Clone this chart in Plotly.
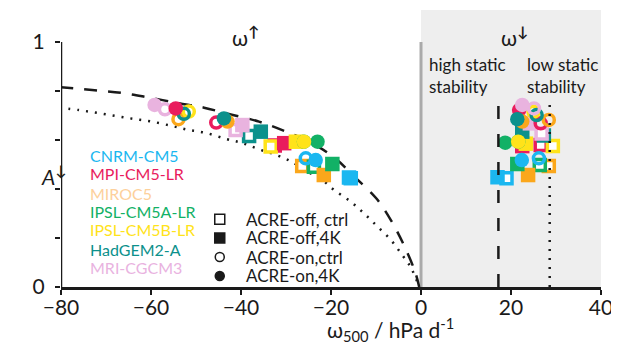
import plotly.graph_objects as go

# ---------------- data ----------------
models = ["CNRM-CM5", "MPI-CM5-LR", "MIROC5", "IPSL-CM5A-LR", "IPSL-CM5B-LR", "HadGEM2-A", "MRI-CGCM3"]
model_colors = ["#1bb7f0", "#e91c5d", "#fba71b", "#12b166", "#ffe31a", "#0c918c", "#e9b3df"]
label_colors = ["#1bb7f0", "#e91c5d", "#fdd09b", "#12b166", "#ffe31a", "#0c918c", "#e9b3df"]

# ascent regime (omega < 0)
omega_up_off_ctrl = [-16.0, -32.5, -26.4, -23.8, -33.4, -38.2, -41.2]
A_up_off_ctrl     = [0.447, 0.578, 0.494, 0.491, 0.573, 0.616, 0.641]
omega_up_off_4k   = [-15.6, -30.4, -21.6, -19.7, -27.8, -35.6, -39.7]
A_up_off_4k       = [0.444, 0.587, 0.457, 0.502, 0.593, 0.634, 0.661]
omega_up_on_ctrl  = [-25.6, -45.5, -53.9, -26.0, -51.6, -52.7, -56.9]
A_up_on_ctrl      = [0.525, 0.671, 0.685, 0.593, 0.716, 0.707, 0.725]
omega_up_on_4k    = [-23.4, -54.5, -43.0, -23.0, -26.0, -43.8, -59.2]
A_up_on_4k        = [0.518, 0.729, 0.675, 0.593, 0.593, 0.688, 0.743]

# descent regime (omega > 0)
omega_dn_off_ctrl = [19.0, 26.6, 28.4, 26.4, 29.3, 27.3, 26.8]
A_dn_off_ctrl     = [0.444, 0.580, 0.494, 0.498, 0.576, 0.618, 0.627]
omega_dn_off_4k   = [17.0, 22.5, 23.8, 21.4, 23.3, 22.5, 24.2]
A_dn_off_4k       = [0.448, 0.575, 0.457, 0.502, 0.585, 0.634, 0.668]
omega_dn_on_ctrl  = [26.2, 26.6, 28.4, 21.6, 25.0, 25.7, 25.1]
A_dn_on_ctrl      = [0.525, 0.668, 0.682, 0.593, 0.715, 0.702, 0.729]
omega_dn_on_4k    = [22.4, 21.8, 22.5, 18.7, 21.6, 21.4, 22.5]
A_dn_on_4k        = [0.518, 0.722, 0.675, 0.589, 0.593, 0.685, 0.743]

# fitted curves
dashed_omega = [-80.2, -73.1, -66.4, -60.4, -54.0, -48.2, -42.7, -36.0, -30.0, -24.3,
                -19.2, -14.4, -10.0, -6.7, -3.8, -1.3, -0.4]
dashed_A     = [0.816, 0.804, 0.792, 0.773, 0.751, 0.732, 0.706, 0.675, 0.634, 0.588,
                0.527, 0.443, 0.363, 0.273, 0.171, 0.061, 0.0]
dotted_omega = [-80.4, -76.0, -72.0, -67.8, -63.8, -59.8, -55.3, -51.6, -47.8, -43.3,
                -39.8, -36.0, -32.2, -28.7, -26.0, -22.2, -19.3, -15.6, -12.7, -9.8,
                -6.7, -4.2, -2.2, -0.4]
dotted_A     = [0.733, 0.722, 0.711, 0.698, 0.686, 0.675, 0.657, 0.641, 0.629, 0.604,
                0.588, 0.562, 0.539, 0.511, 0.478, 0.440, 0.396, 0.348, 0.301, 0.249,
                0.192, 0.131, 0.078, 0.0]

# static stability thresholds
high_stab_omega = 17.2
low_stab_omega = 28.6
threshold_A_top = 0.76

cond_labels = ["ACRE-off, ctrl", "ACRE-off,4K", "ACRE-on,ctrl", "ACRE-on,4K"]
x_ticks = [-80, -60, -40, -20, 0, 20, 40]
y_ticks = [0, 0.2, 0.4, 0.6, 0.8, 1]
y_ticktext = ["0", "", "", "", "", "1"]

FONT = "Lato"
INK = "#1a1a1a"

fig = go.Figure()

# curves
fig.add_trace(go.Scatter(x=dashed_omega, y=dashed_A, mode="lines", line_shape="spline",
                         line=dict(color=INK, width=2.5, dash="13px,11px"),
                         showlegend=False, hoverinfo="skip"))
fig.add_trace(go.Scatter(x=dotted_omega, y=dotted_A, mode="lines", line_shape="spline",
                         line=dict(color=INK, width=2.5, dash="2px,7px"),
                         showlegend=False, hoverinfo="skip"))

conds = [
    ("square", omega_up_off_ctrl, A_up_off_ctrl, omega_dn_off_ctrl, A_dn_off_ctrl, True),
    ("square", omega_up_off_4k, A_up_off_4k, omega_dn_off_4k, A_dn_off_4k, False),
    ("circle", omega_up_on_ctrl, A_up_on_ctrl, omega_dn_on_ctrl, A_dn_on_ctrl, True),
    ("circle", omega_up_on_4k, A_up_on_4k, omega_dn_on_4k, A_dn_on_4k, False),
]

for sym, xu, yu, xd, yd, is_open in conds:
    for i, m in enumerate(models):
        c = model_colors[i]
        if is_open:
            fill = "white" if sym == "square" else "rgba(255,255,255,0)"
            mk = dict(symbol=sym, size=11, color=fill, line=dict(color=c, width=3.5))
        else:
            mk = dict(symbol=sym, size=14.5, color=c, line=dict(width=0))
        fig.add_trace(go.Scatter(x=[xu[i], xd[i]], y=[yu[i], yd[i]], mode="markers",
                                 marker=mk, name=m, showlegend=False))

shapes = [
    dict(type="rect", xref="x", yref="paper", x0=0, x1=40, y0=0, y1=1,
         fillcolor="#eeeeee", line=dict(width=0), layer="below"),
    dict(type="line", xref="x", yref="y", x0=0, x1=0, y0=0, y1=1,
         line=dict(color="#aaaaaa", width=3), layer="below"),
    dict(type="line", xref="x", yref="y", x0=-80, x1=-80, y0=0, y1=1,
         line=dict(color=INK, width=2.5)),
    dict(type="line", xref="x", yref="y", x0=high_stab_omega, x1=high_stab_omega, y0=0, y1=threshold_A_top,
         line=dict(color=INK, width=2.5, dash="13px,15px")),
    dict(type="line", xref="x", yref="y", x0=low_stab_omega, x1=low_stab_omega, y0=0, y1=threshold_A_top,
         line=dict(color=INK, width=2.5, dash="2px,7px")),
]

# condition legend symbols
leg_x = 0.294
leg_rows = [0.245, 0.177, 0.108, 0.040]
leg_syms = [("rect", True), ("rect", False), ("circle", True), ("circle", False)]
for (kind, op), ry, lab in zip(leg_syms, leg_rows, cond_labels):
    s = 10 if kind == "rect" else 9
    shapes.append(dict(type=kind, xref="paper", yref="paper", xsizemode="pixel", ysizemode="pixel",
                       xanchor=leg_x, yanchor=ry, x0=-s / 2, x1=s / 2, y0=-s / 2, y1=s / 2,
                       fillcolor="white" if op else INK,
                       line=dict(color=INK, width=1.5)))

annotations = []
name_rows = [0.473, 0.408, 0.339, 0.271, 0.206, 0.137, 0.072]
for m, c, ry in zip(models, label_colors, name_rows):
    annotations.append(dict(text=m, x=0.05, y=ry, xref="paper", yref="paper",
                            xanchor="left", yanchor="middle", showarrow=False,
                            font=dict(family=FONT, size=16, color=c)))
for lab, ry in zip(cond_labels, leg_rows):
    annotations.append(dict(text=lab, x=0.339, y=ry, xref="paper", yref="paper",
                            xanchor="left", yanchor="middle", showarrow=False,
                            font=dict(family=FONT, size=17, color=INK)))

annotations += [
    dict(text="ω<sup><b>↑</b></sup>", x=0.341, y=0.965, xref="paper", yref="paper", showarrow=False,
         font=dict(family=FONT, size=21, color=INK)),
    dict(text="ω<sup><b>↓</b></sup>", x=0.869, y=0.965, xref="paper", yref="paper", showarrow=False,
         font=dict(family=FONT, size=21, color=INK)),
    dict(text="high static<br>stability", x=0.677, y=0.765, xref="paper", yref="paper",
         xanchor="left", yanchor="middle", align="left", showarrow=False,
         font=dict(family=FONT, size=17, color=INK)),
    dict(text="low static<br>stability", x=0.86, y=0.765, xref="paper", yref="paper",
         xanchor="left", yanchor="middle", align="left", showarrow=False,
         font=dict(family=FONT, size=17, color=INK)),
    dict(text="<i>A</i><sup><b>↓</b></sup>", x=-0.04, y=0.404, xref="paper", yref="paper", showarrow=False,
         font=dict(family=FONT, size=21, color=INK)),
    dict(text="ω<sub>500</sub> / hPa d<sup>-1</sup>", x=0.611, y=-0.155, xref="paper", yref="paper",
         showarrow=False, yanchor="middle", font=dict(family=FONT, size=21, color=INK)),
]

# page body has an 8px margin: shrink the figure so the plot area lands where it should
fig.update_layout(
    width=611, height=337,
    margin=dict(l=53, r=18, t=2, b=58),
    paper_bgcolor="white", plot_bgcolor="white",
    showlegend=False,
    shapes=shapes, annotations=annotations,
    font=dict(family=FONT, size=20, color=INK),
)
fig.update_xaxes(range=[-80, 40], tickvals=x_ticks, ticks="outside", ticklen=5, tickwidth=2,
                 tickcolor=INK, showline=True, linecolor=INK, linewidth=2.5,
                 showgrid=False, zeroline=False, tickfont=dict(family=FONT, size=21),
                 ticklabelstandoff=-5)
fig.update_yaxes(range=[0, 1.1306], tickvals=y_ticks, ticktext=y_ticktext, ticks="outside",
                 ticklen=5, tickwidth=2, tickcolor=INK, showline=False,
                 showgrid=False, zeroline=False, tickfont=dict(family=FONT, size=21),
                 ticklabelstandoff=6)

fig.write_html("out.html")
